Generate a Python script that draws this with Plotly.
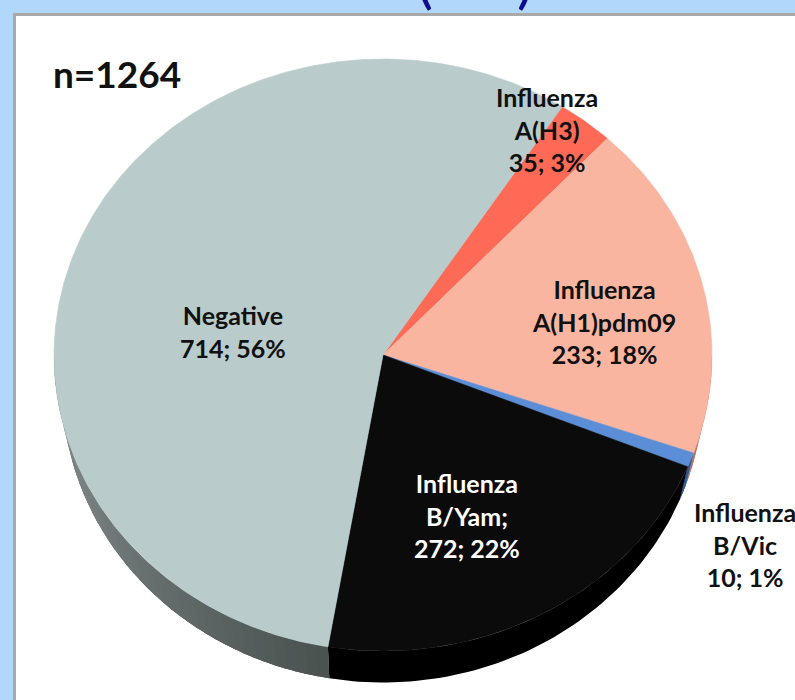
import numpy as np
import plotly.graph_objects as go

# ---------------- data ----------------
categories = ["Influenza A(H3)", "Influenza A(H1)pdm09", "Influenza B/Vic",
              "Influenza B/Yam", "Negative"]
counts = [35, 233, 10, 272, 714]
label_names = ["Influenza<br>A(H3)", "Influenza<br>A(H1)pdm09", "Influenza<br>B/Vic",
               "Influenza<br>B/Yam;", "Negative"]
total_label = "n=1264"

# ---------------- style / layout constants ----------------
W, H = 795, 700
CX, CY, RX, RY, DEPTH = 383, 355, 329, 296, 33
BOT_RX, BOT_RY = 0.975, 0.995   # perspective: bottom rim slightly smaller
START = 33.0  # degrees clockwise from 12 o'clock where the first slice starts
top_colors = ["#fe6a56", "#f9b5a0", "#5b8ed6", "#0b0b0b", "#b9cccb"]
side_light = ["#d0503f", "#cf8c79", "#3f6cae", "#000000", "#8b9493"]
side_dark = ["#b4402f", "#b87868", "#2f5a98", "#000000", "#464e4c"]
text_colors = ["#111111", "#111111", "#111111", "#ffffff", "#111111"]
label_pos = [(547, 129), (604, 321), (745, 544), (467, 515), (233, 331)]
FONT = "Lato"


def pt(t, dy=0.0, sx=1.0, sy=1.0):
    r = np.radians(t)
    return CX + RX * sx * np.sin(r), CY - RY * sy * np.cos(r) + dy


def mix(c1, c2, f):
    a = [int(c1[i:i + 2], 16) for i in (1, 3, 5)]
    b = [int(c2[i:i + 2], 16) for i in (1, 3, 5)]
    return "#%02x%02x%02x" % tuple(int(round(a[k] + (b[k] - a[k]) * f)) for k in range(3))


def side_poly(e0, e1, n=10):
    ts = np.linspace(e0, e1, n)
    xt, yt = pt(ts)
    xb, yb = pt(ts[::-1], DEPTH, BOT_RX, BOT_RY)
    return (np.concatenate([xt, xb, xt[:1]]), np.concatenate([yt, yb, yt[:1]]))


total = sum(counts)
angles = [c / total * 360.0 for c in counts]
bounds = [START]
for a in angles:
    bounds.append(bounds[-1] + a)

fig = go.Figure()

# side walls (front half of the disc, 90..270 deg)
for i in range(len(counts)):
    a0, a1 = bounds[i], bounds[i + 1]
    for shift in (0, 360):
        s0, s1 = max(a0, 90 + shift), min(a1, 270 + shift)
        if s1 <= s0:
            continue
        xs, ys = side_poly(s0, s1, 60)
        fig.add_trace(go.Scatter(x=xs, y=ys, mode="lines", fill="toself",
                                 fillcolor=side_dark[i], line=dict(width=0),
                                 hoverinfo="skip", showlegend=False))
        if side_dark[i] == side_light[i]:
            continue
        n = max(1, int(np.ceil((s1 - s0) / 2.0)))
        edges = np.linspace(s0, s1, n + 1)
        for k in range(n):
            e0, e1 = edges[k], min(s1, edges[k + 1] + 0.6)
            xs, ys = side_poly(e0, e1, 6)
            mid = (edges[k] + edges[k + 1]) / 2 - shift
            f = min(1.0, max(0.0, (mid - 185) / 85.0)) if mid > 180 else 0.0
            col = mix(side_dark[i], side_light[i], f)
            fig.add_trace(go.Scatter(x=xs, y=ys, mode="lines", fill="toself",
                                     fillcolor=col, line=dict(width=0),
                                     hoverinfo="skip", showlegend=False))

# top faces
for i in range(len(counts)):
    a0, a1 = bounds[i], bounds[i + 1]
    ts = np.linspace(a0, a1, max(3, int(np.ceil((a1 - a0) / 0.5)) + 1))
    xa, ya = pt(ts)
    xs = np.concatenate([[CX], xa, [CX]])
    ys = np.concatenate([[CY], ya, [CY]])
    fig.add_trace(go.Scatter(x=xs, y=ys, mode="lines", fill="toself",
                             fillcolor=top_colors[i],
                             line=dict(color=top_colors[i], width=0.6),
                             hoverinfo="text", text=categories[i], showlegend=False))

# labels
annotations = []
for i in range(len(counts)):
    pct = int(round(counts[i] / total * 100))
    txt = f"{label_names[i]}<br>{counts[i]}; {pct}%"
    x, y = label_pos[i]
    annotations.append(dict(x=x, y=y, xref="x", yref="y", text=txt, showarrow=False,
                            xanchor="center", yanchor="middle", align="center",
                            font=dict(family=FONT, size=25, color=text_colors[i],
                                      weight="bold")))
annotations.append(dict(x=51, y=73, xref="x", yref="y", text=total_label, showarrow=False,
                        xanchor="left", yanchor="middle",
                        font=dict(family=FONT, size=37, color="#111111", weight="bold")))
annotations.append(dict(x=425, y=17, xref="x", yref="y", text="(", showarrow=False,
                        xanchor="center", yanchor="bottom",
                        font=dict(family=FONT, size=60, color="#0c0c8c")))
annotations.append(dict(x=525, y=17, xref="x", yref="y", text=")", showarrow=False,
                        xanchor="center", yanchor="bottom",
                        font=dict(family=FONT, size=60, color="#0c0c8c")))

fig.update_layout(
    width=W, height=H,
    margin=dict(l=0, r=0, t=0, b=0),
    paper_bgcolor="#b1d7fb",
    plot_bgcolor="rgba(0,0,0,0)",
    xaxis=dict(range=[0, W], visible=False, fixedrange=True),
    yaxis=dict(range=[H, 0], visible=False, fixedrange=True),
    shapes=[dict(type="rect", xref="x", yref="y", x0=14.5, y0=14.5, x1=W + 20, y1=H + 20,
                 fillcolor="#ffffff", line=dict(color="#a9a9a9", width=3), layer="below")],
    annotations=annotations,
)

fig.write_html("out.html",
               config={"displayModeBar": False},
               post_script="document.body.style.margin='0';"
                           "document.body.style.overflow='hidden';")
